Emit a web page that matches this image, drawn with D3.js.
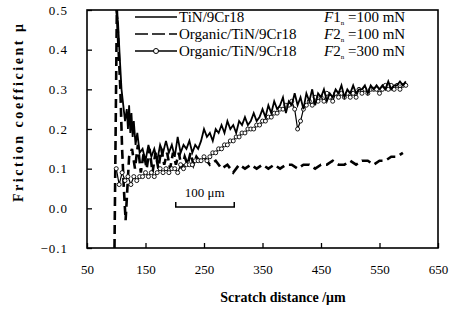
<!DOCTYPE html>
<html><head><meta charset="utf-8">
<script src="https://cdn.jsdelivr.net/npm/d3@7/dist/d3.min.js"></script>
<style>body{margin:0;background:#fff}svg{display:block}text{font-family:"Liberation Serif","DejaVu Serif",serif;fill:#000}</style>
</head><body><svg id="c" width="450" height="312"></svg>
<script>
const xTicks = [50,150,250,350,450,550,650];
const yTicks = [-0.1,0,0.1,0.2,0.3,0.4,0.5];
const seriesNames = ["TiN/9Cr18","Organic/TiN/9Cr18","Organic/TiN/9Cr18"];
const loadLabels = [["F","1","=100 mN"],["F","2","=100 mN"],["F","2","=300 mN"]];

const tinX = [100,103,106,109,112,115,118,120,122,124,126,128,130,133,136,140,145,150,155,160,165,170,175,180,185,190,195,200,205,210,215,220,225,230,235,240,245,250,255,260,265,270,275,280,285,290,295,300,305,310,315,320,325,330,335,340,345,350,355,360,365,370,375,380,385,390,395,400,405,410,415,420,425,430,435,440,445,450,455,460,465,470,475,480,485,490,495,500,505,510,515,520,525,530,535,540,545,550,555,560,565,570,575,580,585,590,595];
const tinY = [0.50,0.47,0.38,0.30,0.26,0.22,0.25,0.20,0.26,0.19,0.24,0.18,0.22,0.16,0.19,0.14,0.15,0.12,0.16,0.13,0.15,0.12,0.16,0.14,0.17,0.14,0.16,0.13,0.18,0.14,0.16,0.15,0.17,0.14,0.16,0.15,0.17,0.20,0.18,0.19,0.17,0.20,0.19,0.21,0.19,0.22,0.20,0.21,0.19,0.22,0.21,0.23,0.21,0.22,0.24,0.22,0.23,0.25,0.23,0.26,0.24,0.27,0.25,0.26,0.28,0.24,0.27,0.26,0.29,0.26,0.28,0.25,0.29,0.27,0.30,0.26,0.29,0.28,0.30,0.27,0.29,0.28,0.30,0.29,0.31,0.28,0.30,0.29,0.31,0.29,0.30,0.30,0.31,0.29,0.31,0.30,0.31,0.30,0.31,0.30,0.32,0.30,0.31,0.31,0.32,0.31,0.32];

const org100X = [97,99,101,104,107,110,113,116,119,122,127,132,137,142,147,152,157,162,167,172,177,182,187,192,197,202,207,212,217,222,227,232,237,242,250,260,270,280,290,300,310,320,330,340,350,360,370,380,390,400,410,420,430,440,450,460,470,480,490,500,510,520,530,540,550,560,570,580,590];
const org100Y = [-0.10,0.20,0.50,0.40,0.30,0.15,0.05,-0.03,0.05,0.13,0.15,0.10,0.16,0.09,0.14,0.10,0.15,0.09,0.14,0.10,0.15,0.11,0.14,0.10,0.14,0.11,0.14,0.10,0.13,0.11,0.14,0.11,0.13,0.12,0.13,0.11,0.12,0.10,0.11,0.09,0.11,0.10,0.11,0.10,0.11,0.10,0.11,0.10,0.11,0.11,0.10,0.11,0.11,0.10,0.11,0.11,0.12,0.11,0.11,0.12,0.11,0.12,0.12,0.11,0.12,0.12,0.13,0.13,0.14];

const org300X = [100,105,110,115,120,125,130,135,140,145,150,155,160,165,170,175,180,185,190,195,200,205,210,215,220,225,230,235,240,245,250,255,260,265,270,275,280,285,290,295,300,305,310,315,320,325,330,335,340,345,350,355,360,365,370,375,380,385,390,395,400,405,410,415,420,425,430,435,440,445,450,455,460,465,470,475,480,485,490,495,500,505,510,515,520,525,530,535,540,545,550,555,560,565,570,575,580,585,590,595];
const org300Y = [0.10,0.06,0.09,0.07,0.08,0.06,0.08,0.07,0.08,0.08,0.09,0.08,0.09,0.08,0.09,0.10,0.09,0.10,0.09,0.10,0.10,0.09,0.11,0.10,0.11,0.11,0.11,0.12,0.12,0.12,0.13,0.12,0.13,0.14,0.14,0.15,0.15,0.16,0.16,0.17,0.17,0.18,0.18,0.19,0.19,0.20,0.20,0.20,0.21,0.21,0.22,0.22,0.23,0.23,0.24,0.24,0.25,0.25,0.26,0.26,0.27,0.25,0.20,0.22,0.25,0.26,0.27,0.26,0.28,0.27,0.28,0.27,0.29,0.28,0.27,0.29,0.28,0.29,0.28,0.29,0.28,0.29,0.28,0.30,0.29,0.30,0.29,0.30,0.30,0.30,0.29,0.30,0.31,0.30,0.31,0.30,0.31,0.30,0.31,0.31];

const svg = d3.select("#c");
const m = {l:87, r:438, t:10, b:248};
const x = d3.scaleLinear().domain([50,650]).range([m.l,m.r]);
const y = d3.scaleLinear().domain([-0.1,0.5]).range([m.b,m.t]);
svg.append("clipPath").attr("id","cp").append("rect")
  .attr("x",m.l).attr("y",m.t).attr("width",m.r-m.l).attr("height",m.b-m.t);

svg.append("rect").attr("x",m.l).attr("y",m.t).attr("width",m.r-m.l).attr("height",m.b-m.t)
  .attr("fill","none").attr("stroke","#000").attr("stroke-width",1.6);

const xa = svg.append("g").attr("transform",`translate(0,${m.b})`)
  .call(d3.axisBottom(x).tickValues(xTicks).tickSizeInner(-5).tickSizeOuter(0).tickPadding(17).tickFormat(d3.format("d")));
const ya = svg.append("g").attr("transform",`translate(${m.l},0)`)
  .call(d3.axisLeft(y).tickValues(yTicks).tickSizeInner(-5).tickSizeOuter(0).tickPadding(19).tickFormat(d3.format(".1f")));
[xa,ya].forEach(a=>{a.select(".domain").remove();a.selectAll("line").attr("stroke","#000").attr("stroke-width",1.3);
  a.selectAll("text").style("font-family","Liberation Serif").style("font-size","13px").attr("fill","#000");});
ya.selectAll("text").style("letter-spacing","1px");

const line = d3.line().x(d=>x(d[0])).y(d=>y(d[1]));
const g = svg.append("g").attr("clip-path","url(#cp)");
const d1 = tinX.map((v,i)=>[v,tinY[i]]);
const d2 = org100X.map((v,i)=>[v,org100Y[i]]);
const d3d = org300X.map((v,i)=>[v,org300Y[i]]);
g.append("path").datum(d2).attr("d",line).attr("fill","none").attr("stroke","#000").attr("stroke-width",2.6).attr("stroke-dasharray","9,5");
g.append("path").datum(d3d).attr("d",line).attr("fill","none").attr("stroke","#000").attr("stroke-width",1.2);
g.selectAll("circle.m").data(d3d).enter().append("circle").attr("class","m")
  .attr("cx",d=>x(d[0])).attr("cy",d=>y(d[1])).attr("r",2).attr("fill","#fff").attr("stroke","#000").attr("stroke-width",0.9);
g.append("path").datum(d1).attr("d",line).attr("fill","none").attr("stroke","#000").attr("stroke-width",1.8);

// legend
const lg = svg.append("g");
const rows = [22,39,56];
const lx0 = 135, lx1 = 177;
lg.append("line").attr("x1",lx0).attr("x2",lx1).attr("y1",rows[0]-5).attr("y2",rows[0]-5).attr("stroke","#000").attr("stroke-width",1.5);
lg.append("line").attr("x1",lx0).attr("x2",lx1).attr("y1",rows[1]-5).attr("y2",rows[1]-5).attr("stroke","#000").attr("stroke-width",1.5).attr("stroke-dasharray","13,4");
lg.append("line").attr("x1",lx0).attr("x2",lx1).attr("y1",rows[2]-5).attr("y2",rows[2]-5).attr("stroke","#000").attr("stroke-width",1.5);
lg.append("circle").attr("cx",(lx0+lx1)/2).attr("cy",rows[2]-5).attr("r",2.5).attr("fill","#fff").attr("stroke","#000").attr("stroke-width",1);
seriesNames.forEach((s,i)=>{
  lg.append("text").attr("x",179).attr("y",rows[i]).style("font-size","15px").text(s);
  const t = lg.append("text").attr("x",324).attr("y",rows[i]).style("font-size","15px");
  t.append("tspan").style("font-style","italic").text(loadLabels[i][0]);
  t.append("tspan").text(loadLabels[i][1]);
  t.append("tspan").attr("dy",3).style("font-size","7px").text("n");
  t.append("tspan").attr("dy",-3).text(" "+loadLabels[i][2]);
});

// scale bar (100 μm in x units)
svg.append("text").attr("x",x(200)+30).attr("y",197).attr("text-anchor","middle").style("font-size","13px").text("100 μm");
svg.append("path").attr("d",`M${x(200)+1},202 V207 H${x(300)+1} V202`).attr("fill","none").attr("stroke","#000").attr("stroke-width",1.5);

// axis titles
svg.append("text").attr("x",283).attr("y",302).attr("text-anchor","middle").style("font-size","14px").style("font-weight","bold").text("Scratch distance /μm");
svg.append("text").attr("transform","translate(23,113) rotate(-90)").attr("text-anchor","middle").style("font-size","14px").style("font-weight","bold")
  .attr("textLength",178).attr("lengthAdjust","spacing").text("Friction coefficient μ");
</script></body></html>
